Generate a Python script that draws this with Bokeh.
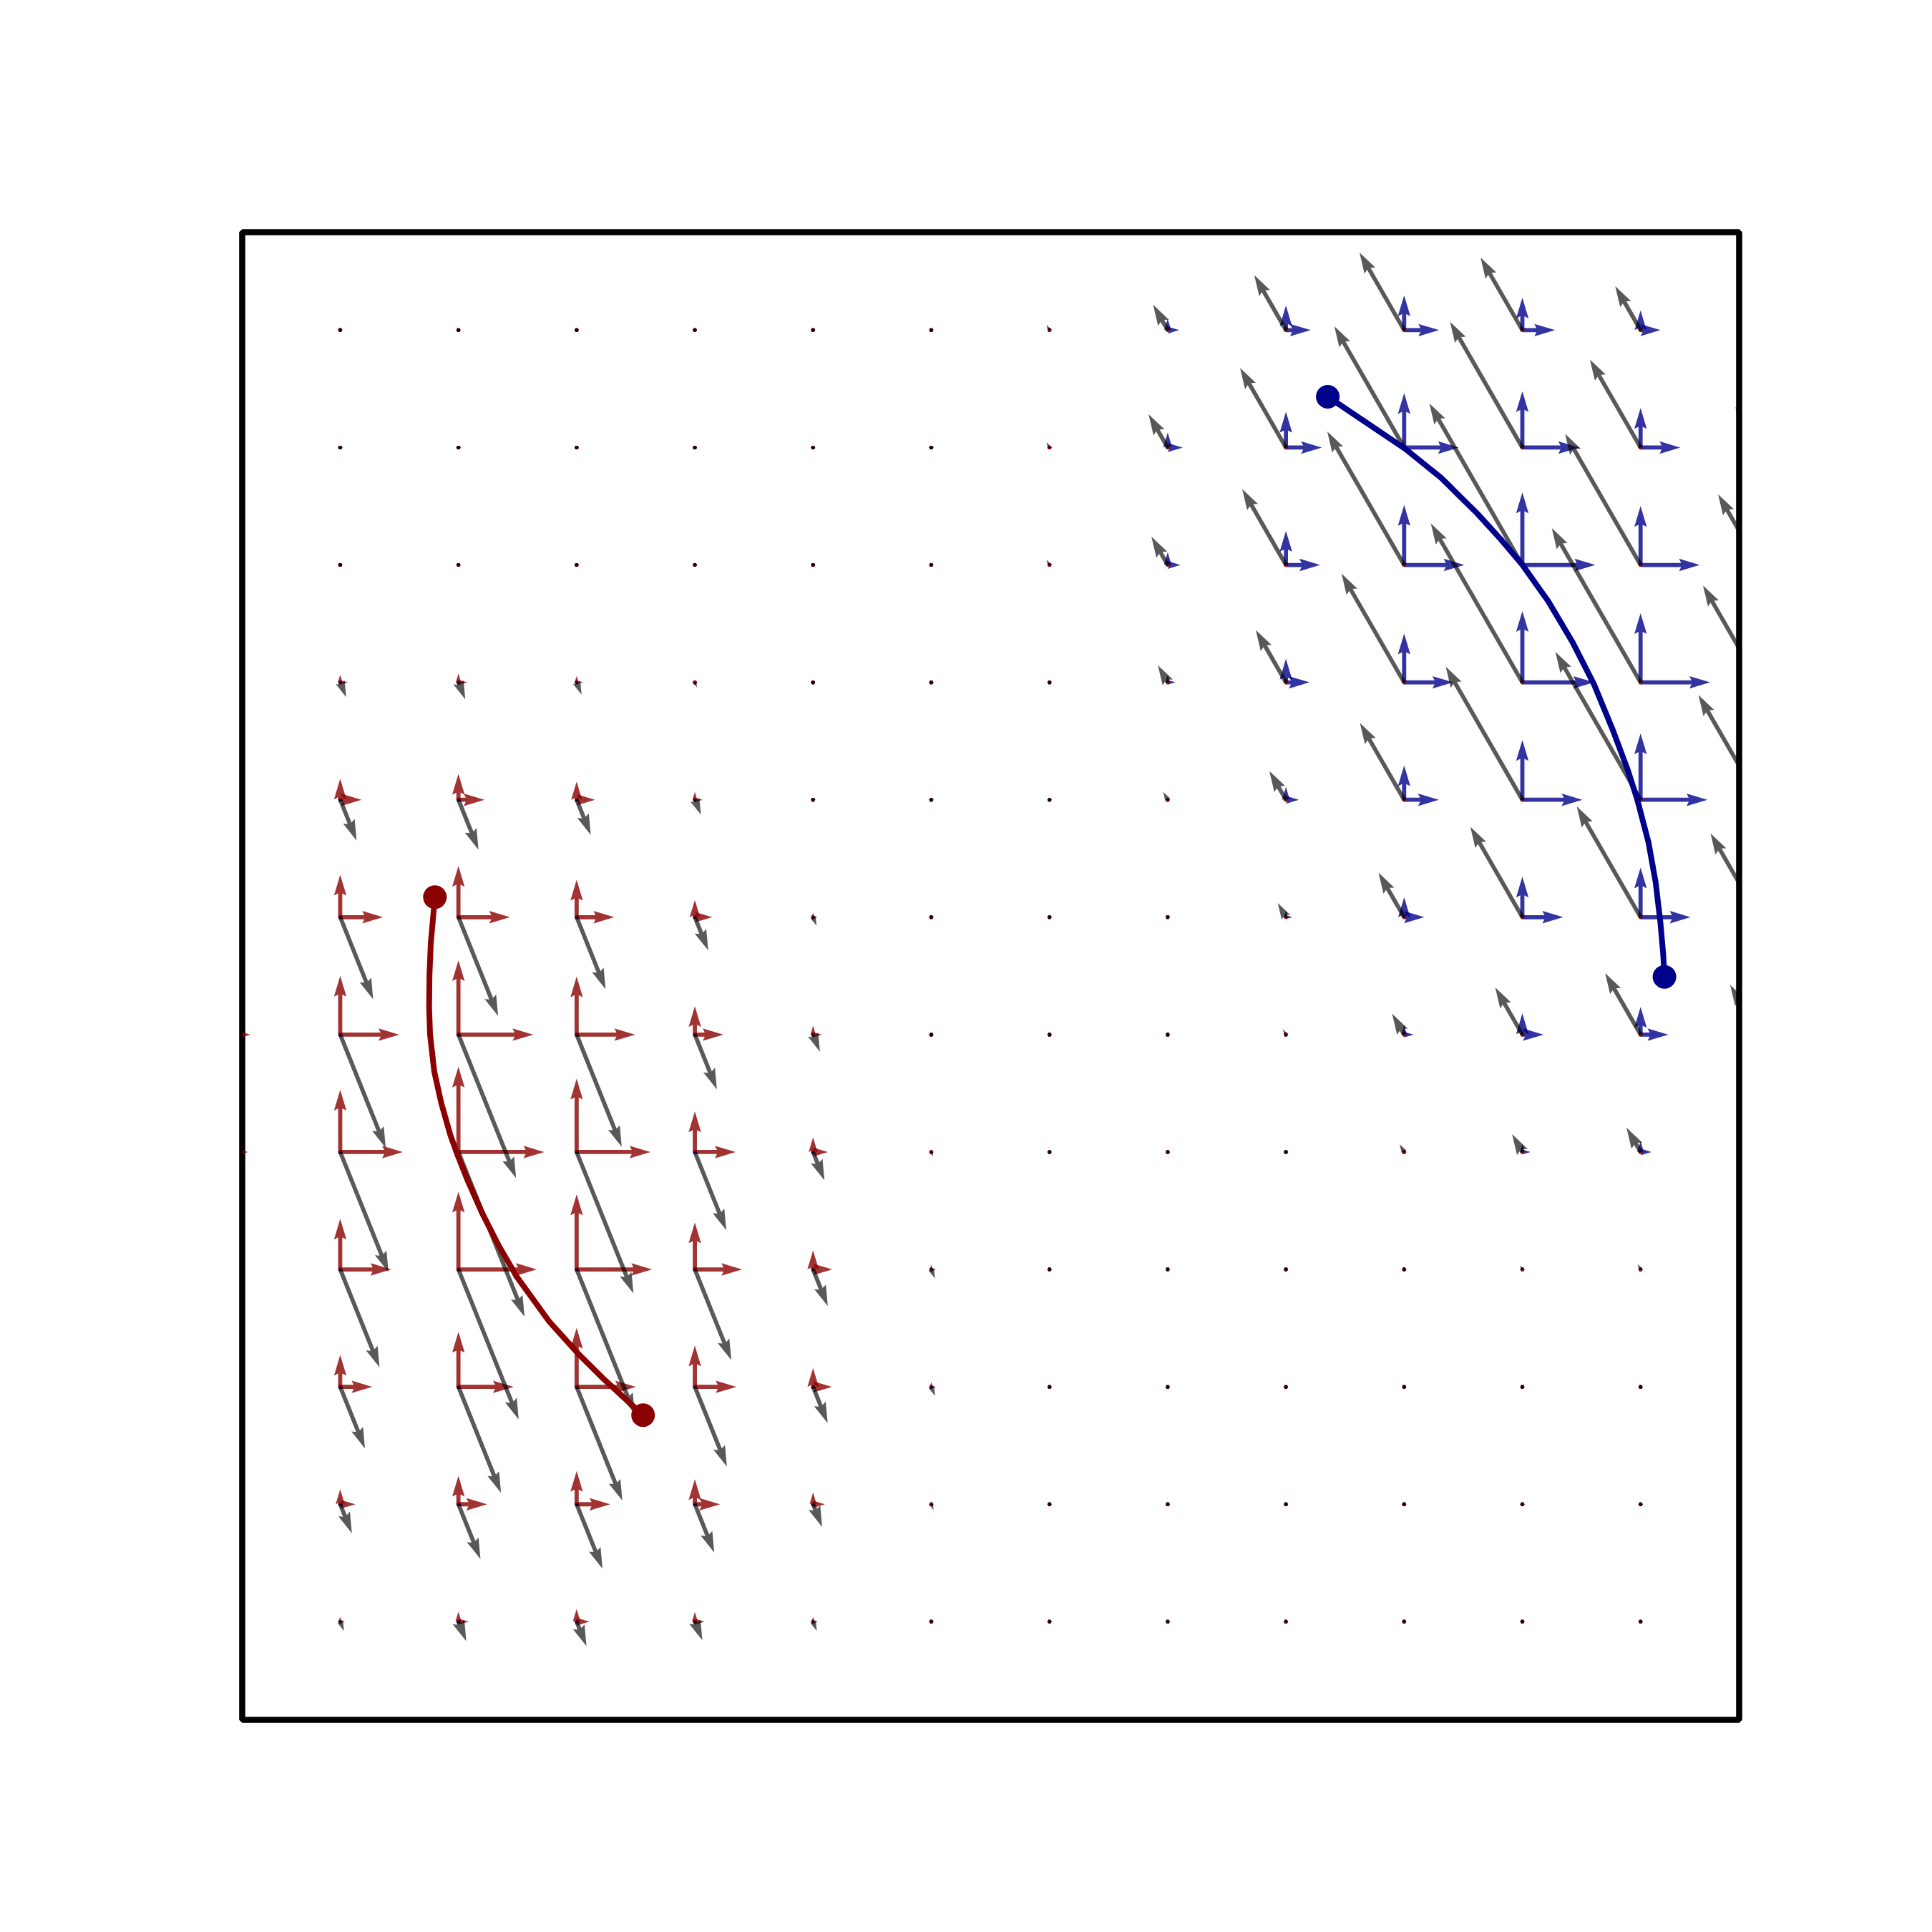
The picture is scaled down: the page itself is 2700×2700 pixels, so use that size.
import numpy as np
from bokeh.plotting import figure
from bokeh.models import Range1d
from bokeh.embed import file_html
from bokeh.resources import INLINE

# ---------------- data ----------------
# grid: columns x = -1..12, rows y = 0..11
grid_x = list(range(-1, 13))
grid_y = list(range(0, 12))

# red field magnitude (rows y=8..0, cols x=-1..5)
red_y = [8, 7, 6, 5, 4, 3, 2, 1, 0]
red_x = [-1, 0, 1, 2, 3, 4, 5]
red_mag = [
    [0.00, 0.065, 0.075, 0.054, 0.023, 0.000, 0.000],
    [0.05, 0.180, 0.220, 0.155, 0.066, 0.010, 0.000],
    [0.15, 0.362, 0.436, 0.318, 0.147, 0.038, 0.000],
    [0.24, 0.500, 0.633, 0.495, 0.242, 0.075, 0.010],
    [0.22, 0.530, 0.726, 0.624, 0.345, 0.125, 0.020],
    [0.12, 0.432, 0.662, 0.638, 0.400, 0.162, 0.040],
    [0.05, 0.272, 0.468, 0.502, 0.352, 0.160, 0.040],
    [0.02, 0.128, 0.242, 0.284, 0.213, 0.100, 0.025],
    [0.00, 0.041, 0.086, 0.108, 0.082, 0.041, 0.010],
]

# blue field magnitude (rows y=11..3, cols x=6..12)
blue_y = [11, 10, 9, 8, 7, 6, 5, 4, 3]
blue_x = [6, 7, 8, 9, 10, 11, 12]
blue_mag = [
    [0.02, 0.097, 0.210, 0.296, 0.277, 0.168, 0.080],
    [0.02, 0.127, 0.304, 0.463, 0.480, 0.336, 0.155],
    [0.02, 0.108, 0.290, 0.510, 0.617, 0.501, 0.270],
    [0.00, 0.065, 0.200, 0.415, 0.607, 0.589, 0.370],
    [0.00, 0.030, 0.110, 0.293, 0.508, 0.565, 0.400],
    [0.00, 0.000, 0.054, 0.170, 0.345, 0.423, 0.320],
    [0.00, 0.000, 0.020, 0.080, 0.180, 0.235, 0.190],
    [0.00, 0.000, 0.000, 0.030, 0.068, 0.093, 0.080],
    [0.00, 0.000, 0.000, 0.000, 0.015, 0.020, 0.020],
]

# gray vector per unit of red / blue magnitude
red_gray_dir = (0.77, -1.93)
blue_gray_dir = (-1.275, 2.23)

# trajectories
red_path_x = [0.801, 0.766, 0.755, 0.752, 0.760, 0.795, 0.855, 0.932, 0.983, 1.080,
              1.200, 1.338, 1.494, 1.768, 2.012, 2.236, 2.562]
red_path_y = [6.171, 5.776, 5.505, 5.233, 5.001, 4.689, 4.416, 4.144, 4.000, 3.753,
              3.481, 3.208, 2.937, 2.556, 2.284, 2.060, 1.759]
blue_path_x = [8.354, 8.707, 9.009, 9.312, 9.615, 9.817, 9.998, 10.220, 10.422, 10.604,
               10.765, 10.892, 10.972, 11.067, 11.128, 11.168, 11.192, 11.202]
blue_path_y = [10.433, 10.194, 9.989, 9.743, 9.442, 9.219, 9.004, 8.689, 8.347, 7.988,
               7.595, 7.253, 7.003, 6.637, 6.295, 5.953, 5.679, 5.492]

# ---------------- geometry helpers ----------------
X0, X1 = -0.829, 11.834
Y0, Y1 = -0.836, 11.834
FW, FH = 2092, 2079
SX = FW / (X1 - X0)
SY = FH / (Y1 - Y0)
WIDTH_PX = 5.8


def field(mag, rows, cols):
    m = {}
    for r, yy in enumerate(rows):
        for c, xx in enumerate(cols):
            m[(xx, yy)] = mag[r][c]
    return m


red_field = field(red_mag, red_y, red_x)
blue_field = field(blue_mag, blue_y, blue_x)


def arrow_poly(x0, y0, u, v):
    """matplotlib-quiver style arrow polygon (lengths in shaft widths)."""
    px, py = u * SX, v * SY
    L = np.hypot(px, py) / WIDTH_PX
    hl, hal, hw = 5.0, 4.5, 3.0
    if L < 1.0:
        th = np.arange(0, 7) * (np.pi / 3.0)
        X = np.cos(th) * 0.5
        Y = np.sin(th) * 0.5
        ang = 0.0
    else:
        if L < hl:
            s = L / hl
            xk = np.array([0, hl - hal, hl - hl, hl]) * s
            yk = 0.5 * np.array([1, 1, hw, 0]) * s
        else:
            xk = np.array([0, L - hal, L - hl, L])
            yk = 0.5 * np.array([1, 1, hw, 0])
        ii = [0, 1, 2, 3, 2, 1, 0]
        X = xk[ii]
        Y = yk[ii].copy()
        Y[4:] *= -1
        ang = np.arctan2(py, px)
    c, s_ = np.cos(ang), np.sin(ang)
    Xr = (X * c - Y * s_) * WIDTH_PX
    Yr = (X * s_ + Y * c) * WIDTH_PX
    return list(x0 + Xr / SX), list(y0 + Yr / SY)


def build(kind):
    xs, ys = [], []
    for yy in grid_y:
        for xx in grid_x:
            mr = red_field.get((xx, yy), 0.0)
            mb = blue_field.get((xx, yy), 0.0)
            if kind == "red":
                vecs = [(mr, 0.0), (0.0, mr)]
            elif kind == "blue":
                vecs = [(mb, 0.0), (0.0, mb)]
            else:
                vecs = [(mr * red_gray_dir[0] + mb * blue_gray_dir[0],
                         mr * red_gray_dir[1] + mb * blue_gray_dir[1])]
            for (u, v) in vecs:
                a, b = arrow_poly(xx, yy, u, v)
                xs.append(a)
                ys.append(b)
    return xs, ys


# ---------------- figure ----------------
p = figure(frame_width=FW, frame_height=FH,
           min_border_left=338, min_border_top=324,
           min_border_right=254, min_border_bottom=281,
           x_range=Range1d(X0, X1), y_range=Range1d(Y0, Y1),
           output_backend="svg", toolbar_location=None)
p.axis.visible = False
p.grid.visible = False
p.outline_line_color = "black"
p.outline_line_width = 8.6
p.background_fill_color = "white"
p.border_fill_color = "white"

bx, by = build("blue")
p.patches(bx, by, fill_color="#00008B", fill_alpha=0.8, line_color=None)
rx, ry = build("red")
p.patches(rx, ry, fill_color="#8B0000", fill_alpha=0.8, line_color=None)
gx, gy = build("gray")
p.patches(gx, gy, fill_color="black", fill_alpha=0.65, line_color=None)

p.line(red_path_x, red_path_y, line_color="#8B0000", line_width=8,
       line_join="round", line_cap="round")
p.line(blue_path_x, blue_path_y, line_color="#00008B", line_width=8,
       line_join="round", line_cap="round")
p.scatter([red_path_x[0], red_path_x[-1]], [red_path_y[0], red_path_y[-1]],
          size=33, fill_color="#8B0000", line_color=None)
p.scatter([blue_path_x[0], blue_path_x[-1]], [blue_path_y[0], blue_path_y[-1]],
          size=33, fill_color="#00008B", line_color=None)

open("out.html", "w").write(file_html(p, INLINE))
